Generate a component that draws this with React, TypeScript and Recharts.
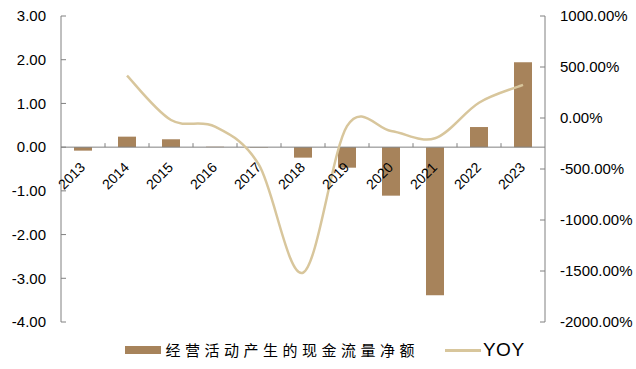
import { ComposedChart, Bar, Line, XAxis, YAxis, ReferenceLine, Legend } from 'recharts';

const years = ['2013', '2014', '2015', '2016', '2017', '2018', '2019', '2020', '2021', '2022', '2023'];
// 经营活动产生的现金流量净额
const cashFlow = [-0.08, 0.24, 0.18, 0.01, -0.01, -0.24, -0.47, -1.11, -3.39, 0.46, 1.94];
// YOY, %
const yoy = [null, 415, -20, -85, -460, -1517, -80, -127, -199, 150, 324];

const leftTicks = [-4, -3, -2, -1, 0, 1, 2, 3];
const rightTicks = [-2000, -1500, -1000, -500, 0, 500, 1000];

const data = years.map((year, i) => ({ year, cashFlow: cashFlow[i], yoy: yoy[i] }));

const W = 636;
const H = 369;
const MARGIN = { top: 16, right: 0, bottom: 26, left: 8 };
const LEFT_W = 53;
const RIGHT_W = 91;
const PLOT_W = W - MARGIN.left - LEFT_W - RIGHT_W;
const PLOT_H = 306;
const BAND = PLOT_W / years.length;
const ZERO_Y = MARGIN.top + (PLOT_H * leftTicks[leftTicks.length - 1]) / (leftTicks[leftTicks.length - 1] - leftTicks[0]);

const AXIS_COLOR = '#808080';
const BAR_COLOR = '#A7835B';
const LINE_COLOR = '#D8C69C';
const FONT = '"Liberation Sans", Arial, sans-serif';

// smooth curve through every point (bezier with catmull-rom control points)
function smoothCurve(context: any) {
  let pts: number[][] = [];
  return {
    areaStart() {},
    areaEnd() {},
    lineStart() {
      pts = [];
    },
    point(x: number, y: number) {
      pts.push([+x, +y]);
    },
    lineEnd() {
      if (!pts.length) return;
      context.moveTo(pts[0][0], pts[0][1]);
      for (let i = 0; i < pts.length - 1; i++) {
        const p0 = pts[Math.max(i - 1, 0)];
        const p1 = pts[i];
        const p2 = pts[i + 1];
        const p3 = pts[Math.min(i + 2, pts.length - 1)];
        context.bezierCurveTo(
          p1[0] + (p2[0] - p0[0]) / 6,
          p1[1] + (p2[1] - p0[1]) / 6,
          p2[0] - (p3[0] - p1[0]) / 6,
          p2[1] - (p3[1] - p1[1]) / 6,
          p2[0],
          p2[1]
        );
      }
    },
  };
}

// year labels sit under the zero line, with a tick mark between categories
function YearTick({ x, payload, index }: any) {
  return (
    <g>
      {index > 0 && (
        <line x1={x - BAND / 2} x2={x - BAND / 2} y1={ZERO_Y - 4} y2={ZERO_Y} stroke={AXIS_COLOR} />
      )}
      <text
        x={x + 3}
        y={ZERO_Y + 21}
        textAnchor="end"
        transform={`rotate(-45, ${x + 3}, ${ZERO_Y + 21})`}
        fontSize={14}
        fontFamily={FONT}
        fill="#000"
      >
        {payload.value}
      </text>
    </g>
  );
}

function LegendContent({ payload }: any) {
  // bars first, then the line
  const items = [...(payload || [])].sort((a: any, b: any) => (a.type === 'rect' ? -1 : 0) - (b.type === 'rect' ? -1 : 0));
  return (
    <div style={{ display: 'flex', justifyContent: 'center', alignItems: 'center', height: 20, paddingLeft: 6 }}>
      {items.map((entry: any) => (
        <div key={entry.value} style={{ display: 'flex', alignItems: 'center', marginRight: entry.type === 'rect' ? 26 : 0 }}>
          {entry.type === 'rect' ? (
            <span style={{ display: 'inline-block', width: 36, height: 8, background: entry.color, marginRight: 4 }} />
          ) : (
            <span style={{ display: 'inline-block', width: 36, height: 3, background: entry.color, marginRight: 2 }} />
          )}
          <span
            style={{
              fontFamily: entry.type === 'rect' ? '"Noto Sans CJK SC", sans-serif' : FONT,
              fontSize: entry.type === 'rect' ? 15 : 19,
              letterSpacing: entry.type === 'rect' ? 4.5 : 0.5,
              color: '#000',
              lineHeight: '20px',
            }}
          >
            {entry.value}
          </span>
        </div>
      ))}
    </div>
  );
}

export default function App() {
  return (
    <div style={{ position: 'fixed', left: 0, top: 0, width: W, height: H, background: '#fff' }}>
      <ComposedChart width={W} height={H} data={data} margin={MARGIN}>
        <XAxis dataKey="year" height={1} axisLine={false} tickLine={false} tick={<YearTick />} interval={0} />
        <YAxis
          yAxisId="left"
          width={LEFT_W}
          domain={[-4, 3]}
          ticks={leftTicks}
          tickFormatter={(v: number) => v.toFixed(2)}
          stroke={AXIS_COLOR}
          tickSize={-5}
          tickMargin={20}
          tick={{ fill: '#000', fontSize: 15, fontFamily: FONT }}
          interval={0}
        />
        <YAxis
          yAxisId="right"
          orientation="right"
          width={RIGHT_W}
          domain={[-2000, 1000]}
          ticks={rightTicks}
          tickFormatter={(v: number) => `${v.toFixed(2)}%`}
          stroke={AXIS_COLOR}
          tickSize={-5}
          tickMargin={20}
          tick={{ fill: '#000', fontSize: 15, fontFamily: FONT }}
          interval={0}
        />
        <ReferenceLine yAxisId="left" y={0} stroke={AXIS_COLOR} />
        <Bar
          yAxisId="left"
          dataKey="cashFlow"
          name="经营活动产生的现金流量净额"
          fill={BAR_COLOR}
          barSize={18}
          legendType="rect"
          isAnimationActive={false}
        />
        <Line
          yAxisId="right"
          dataKey="yoy"
          name="YOY"
          type={smoothCurve as any}
          stroke={LINE_COLOR}
          strokeWidth={2.5}
          dot={false}
          legendType="line"
          isAnimationActive={false}
        />
        <Legend verticalAlign="bottom" content={<LegendContent />} wrapperStyle={{ bottom: 9 }} />
      </ComposedChart>
    </div>
  );
}
